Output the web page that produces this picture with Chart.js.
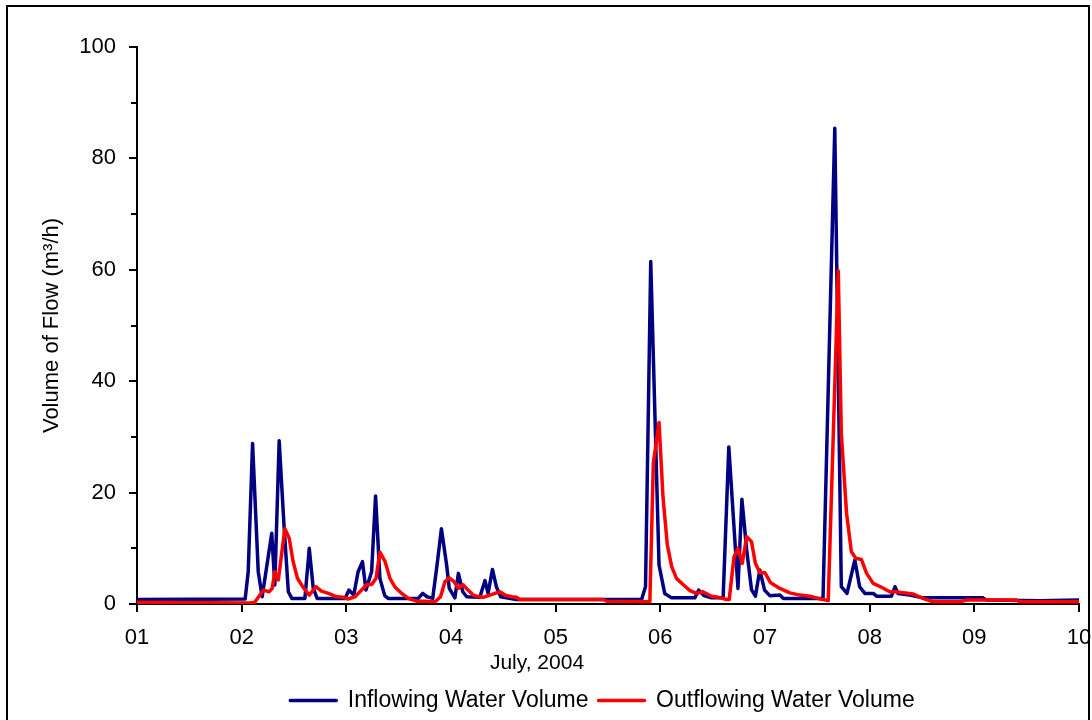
<!DOCTYPE html>
<html>
<head>
<meta charset="utf-8">
<script src="https://cdn.jsdelivr.net/npm/chart.js@4.4.1/dist/chart.umd.min.js"></script>
<style>
  html, body { margin: 0; padding: 0; background: #fff; }
  #wrap { position: relative; width: 1092px; height: 720px; }
</style>
</head>
<body>
<div id="wrap"><canvas id="c" width="1092" height="720"></canvas></div>
<script>
// ---- data (hours since 01 July 2004 00:00, volume m3/h) ----
const dayLabels = ['01','02','03','04','05','06','07','08','09','10'];
const yTickLabels = ['0','20','40','60','80','100'];
const seriesNames = ['Inflowing Water Volume', 'Outflowing Water Volume'];
const xAxisTitle = 'July, 2004';
const yAxisTitle = 'Volume of Flow (m\u00B3/h)';

const inflowHours = [0, 24.8, 25.5, 26.5, 27.8, 28.7, 30.9, 31.6, 32.6, 33.7, 34.7, 35.5, 38.5, 39.5, 40.4, 41.3, 47.7, 48.6, 49.7, 50.7, 51.7, 52.5, 53.8, 54.7, 55.7, 56.8, 57.6, 64.5, 65.5, 66.5, 67.8, 68.8, 69.8, 71.0, 71.6, 72.9, 73.7, 74.7, 75.6, 78.6, 79.8, 80.5, 81.5, 82.4, 83.4, 87.0, 115.7, 116.6, 117.8, 119.7, 121.0, 122.6, 127.9, 128.8, 130.0, 131.7, 134.4, 135.7, 137.8, 138.7, 139.8, 140.9, 141.8, 142.8, 143.9, 145.1, 147.4, 148.2, 157.3, 160.0, 161.5, 162.8, 164.6, 165.7, 166.9, 168.8, 169.6, 173.0, 173.8, 174.5, 177.2, 180.2, 194.0, 194.8, 207.0, 216];
const inflowValues = [0.8, 0.9, 5.8, 28.8, 5.8, 1.3, 12.7, 3.4, 29.3, 14.2, 2.2, 1.0, 1.0, 10.0, 2.9, 1.0, 1.0, 2.5, 1.6, 5.8, 7.6, 2.5, 5.8, 19.4, 4.6, 1.5, 1.0, 1.0, 1.9, 1.3, 1.0, 7.0, 13.5, 7.0, 2.8, 1.1, 5.5, 2.2, 1.3, 1.2, 4.2, 1.9, 6.2, 3.1, 1.3, 0.8, 0.8, 3.1, 61.5, 7.0, 1.9, 1.1, 1.1, 2.5, 1.5, 1.1, 1.1, 28.2, 2.8, 18.8, 9.7, 2.6, 1.4, 6.1, 2.5, 1.5, 1.6, 1.0, 1.0, 85.4, 3.1, 1.9, 7.9, 3.1, 1.9, 1.9, 1.4, 1.4, 3.1, 1.9, 1.6, 1.1, 1.1, 0.7, 0.6, 0.7];

const outflowHours = [0, 25.9, 27.0, 29.0, 30.3, 31.0, 31.6, 32.4, 33.9, 34.9, 35.8, 36.8, 38.0, 39.5, 41.0, 42.3, 43.9, 45.8, 47.3, 48.4, 50.0, 51.5, 52.7, 53.8, 54.8, 55.7, 56.9, 58.0, 59.1, 60.7, 62.2, 64.1, 66.0, 67.2, 68.5, 69.6, 70.6, 71.6, 72.7, 73.7, 74.7, 75.9, 77.1, 77.9, 79.4, 80.9, 83.2, 84.4, 85.9, 87.0, 87.8, 106.9, 107.7, 117.6, 118.4, 119.7, 120.6, 121.6, 122.6, 123.7, 125.2, 126.8, 128.3, 129.8, 131.7, 133.3, 135.2, 135.8, 136.9, 137.8, 138.8, 139.8, 140.9, 141.8, 142.8, 144.0, 145.3, 147.4, 149.7, 152.0, 154.3, 156.2, 158.5, 160.8, 161.5, 162.7, 163.8, 164.8, 166.1, 167.3, 168.8, 170.7, 172.6, 174.1, 175.7, 178.0, 180.2, 182.5, 188.7, 190.2, 201.7, 202.4, 216];
const outflowValues = [0.3, 0.2, 0.3, 2.5, 2.2, 2.8, 5.8, 4.3, 13.5, 11.8, 7.6, 4.6, 3.1, 1.6, 3.1, 2.3, 1.9, 1.3, 1.2, 0.9, 1.3, 2.5, 3.5, 3.5, 4.6, 9.3, 7.6, 4.6, 3.1, 1.9, 1.0, 0.5, 0.5, 0.4, 0.5, 1.3, 4.0, 4.7, 4.0, 2.8, 3.5, 2.5, 1.6, 1.4, 1.2, 1.6, 2.2, 1.6, 1.3, 1.2, 0.8, 0.8, 0.5, 0.4, 25.3, 32.6, 19.3, 10.6, 6.7, 4.6, 3.5, 2.4, 1.9, 2.2, 1.4, 1.2, 0.8, 0.8, 8.5, 10.0, 7.3, 12.1, 11.2, 7.3, 5.6, 5.6, 3.8, 2.8, 2.0, 1.6, 1.4, 1.0, 0.6, 59.8, 30.6, 16.3, 9.4, 8.2, 8.0, 5.5, 3.7, 3.0, 2.2, 2.2, 2.0, 1.8, 1.0, 0.4, 0.4, 0.7, 0.7, 0.4, 0.4];

// ---- build ----
const toPoints = (xs, ys) => xs.map((x, i) => ({ x: x, y: ys[i] }));
const FONT = '"Liberation Sans", Arial, Helvetica, sans-serif';
Chart.defaults.font.family = FONT;
Chart.defaults.color = '#000';
const isMajorY = (v) => v % 20 === 0;

const framePlugin = {
  id: 'frame',
  afterLayout(chart) {
    // the original legend is centred under the plot rather than the page
    if (chart.legend) { chart.legend.left = 126; }
  },
  beforeDraw(chart) {
    const ctx = chart.ctx;
    ctx.save();
    ctx.fillStyle = '#fff';
    ctx.fillRect(0, 0, chart.width, chart.height);
    ctx.restore();
  },
  afterDraw(chart) {
    const ctx = chart.ctx;
    const a = chart.chartArea;
    const ys = chart.scales.y;
    ctx.save();
    // shorter minor ticks on the value axis
    ctx.strokeStyle = '#000';
    ctx.lineWidth = 2;
    ys.ticks.forEach((t) => {
      if (!isMajorY(t.value)) {
        const py = Math.round(ys.getPixelForValue(t.value));
        ctx.beginPath();
        ctx.moveTo(a.left - 6, py);
        ctx.lineTo(a.left, py);
        ctx.stroke();
      }
    });
    ctx.restore();
    ctx.save();
    // y axis title
    ctx.font = '22px ' + FONT;
    ctx.fillStyle = '#000';
    ctx.textAlign = 'center';
    ctx.textBaseline = 'middle';
    ctx.translate(52, (a.top + a.bottom) / 2);
    ctx.rotate(-Math.PI / 2);
    ctx.fillText(yAxisTitle, 0, 0);
    ctx.restore();
    ctx.save();
    // x axis title, placed as in the original
    ctx.font = '21px ' + FONT;
    ctx.fillStyle = '#000';
    ctx.textAlign = 'center';
    ctx.textBaseline = 'middle';
    ctx.fillText(xAxisTitle, a.left + 400, a.bottom + 59);
    // outer frame
    ctx.strokeStyle = '#000';
    ctx.lineWidth = 2;
    ctx.strokeRect(7, 6, 1082, 740);
    ctx.restore();
  }
};

new Chart(document.getElementById('c'), {
  type: 'line',
  data: {
    datasets: [
      {
        label: seriesNames[0],
        data: toPoints(inflowHours, inflowValues),
        borderColor: '#000080',
        backgroundColor: '#000080',
        borderWidth: 3.5,
        pointRadius: 0,
        tension: 0,
        borderJoinStyle: 'round',
        order: 2
      },
      {
        label: seriesNames[1],
        data: toPoints(outflowHours, outflowValues),
        borderColor: '#ff0000',
        backgroundColor: '#ff0000',
        borderWidth: 3.5,
        pointRadius: 0,
        tension: 0,
        borderJoinStyle: 'round',
        order: 1
      }
    ]
  },
  options: {
    responsive: false,
    animation: false,
    devicePixelRatio: 1,
    layout: { padding: { left: 0, right: 13, top: 47, bottom: -2 } },
    plugins: {
      tooltip: { enabled: false },
      legend: {
        position: 'bottom',
        labels: {
          boxWidth: 46,
          boxHeight: 0,
          padding: 10,
          font: { size: 23 },
          color: '#000',
          sort: (a, b) => a.datasetIndex - b.datasetIndex
        }
      }
    },
    scales: {
      x: {
        type: 'linear',
        min: 0,
        max: 216,
        afterFit: (s) => { s.height = 75; s.paddingLeft = 0; s.paddingRight = 0; },
        border: { display: true, color: '#000', width: 2 },
        grid: { display: true, drawOnChartArea: false, drawTicks: true, tickLength: 8, color: '#000', lineWidth: 2 },
        ticks: {
          stepSize: 24,
          autoSkip: false,
          maxRotation: 0,
          padding: 13,
          font: { size: 22 },
          color: '#000',
          callback: (v) => dayLabels[Math.round(v / 24)]
        }
      },
      y: {
        type: 'linear',
        min: 0,
        max: 100,
        afterFit: (s) => { s.width = 137; },
        border: { display: true, color: '#000', width: 2 },
        grid: {
          display: true, drawOnChartArea: false, drawTicks: true, tickLength: 8, lineWidth: 2,
          color: '#000',
          tickColor: (c) => (c.tick && !isMajorY(c.tick.value) ? 'rgba(0,0,0,0)' : '#000')
        },
        ticks: {
          stepSize: 10,
          autoSkip: false,
          padding: 13,
          font: { size: 22 },
          color: '#000',
          callback: (v) => (isMajorY(v) ? yTickLabels[v / 20] : '')
        }
      }
    }
  },
  plugins: [framePlugin]
});
</script>
</body>
</html>
